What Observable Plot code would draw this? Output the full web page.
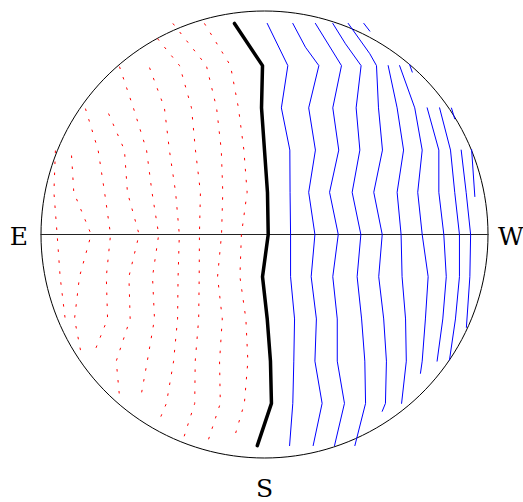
<!DOCTYPE html>
<html><head><meta charset="utf-8">
<script src="https://cdn.jsdelivr.net/npm/d3@7"></script>
<script src="https://cdn.jsdelivr.net/npm/@observablehq/plot@0.6"></script>
<style>body{margin:0;background:#fff}</style>
</head><body><div id="chart"></div>
<script>
// Coordinates in degrees across the sky disc: u (E<0, W>0), v (S<0, N>0); horizon radius 90.
const zeroLine = [[-12.1,85],[-0.8,68],[-1.2,51],[0,34],[1.2,17],[1.5,0],[-0.8,-17],[1.1,-34],[2.4,-51],[2.8,-68],[-2.9,-85]];

const negLines = [
  [[-24.2,85],[-13.7,68],[-10.5,51],[-8.3,34],[-7.0,17],[-9.3,0],[-9.9,-17],[-7.5,-34],[-6.7,-51],[-8.1,-68],[-12.5,-83]],
  [[-36.9,85],[-23.4,68],[-19.3,51],[-17.4,34],[-16.8,17],[-17.3,0],[-18.9,-17],[-17.0,-34],[-18.1,-51],[-17.8,-68],[-22.7,-83]],
  [[-43.1,78.9],[-34.2,68],[-29.4,51],[-27.8,34],[-25.8,17],[-26.2,0],[-26.3,-17],[-26.5,-34],[-27.9,-51],[-28.1,-68],[-32.9,-83]],
  [[-46.3,67.2],[-40.3,51],[-38.3,34],[-35.8,17],[-34.3,0],[-34.8,-17],[-35.0,-34],[-36.6,-51],[-39.5,-68],[-41.9,-73.7]],
  [[-58.4,67.6],[-52.8,51],[-47.5,34],[-45.3,17],[-42.6,0],[-45.1,-17],[-44.3,-34],[-47.2,-51],[-49.9,-66]],
  [[-62.8,48.7],[-56.4,34],[-55.2,17],[-50.5,0],[-54.6,-17],[-54.1,-34],[-59.7,-51],[-58.4,-65.2]],
  [[-72.1,50.7],[-67.0,34],[-64.4,17],[-62.0,0],[-63.7,-17],[-63.2,-34],[-68.9,-48.3]],
  [[-77.7,31.8],[-76.8,17],[-69.8,0],[-74.5,-17],[-76.5,-34],[-73.7,-48.7]],
  [[-84.2,33.8],[-84.8,17],[-83.5,0],[-82.3,-17],[-80.1,-35.4]]
];

const posLines = [
  [[1.1,85],[9.4,68],[6.8,51],[10.2,34],[10.3,17],[10.5,0],[10.5,-17],[12.1,-34],[11.8,-51],[11.4,-68],[10.1,-85]],
  [[11.4,85],[16.5,75.4],[21.9,68],[17.8,51],[20.5,34],[17.8,17],[20.3,0],[18.8,-17],[20.9,-34],[20.3,-51],[23.2,-68],[19.6,-85]],
  [[20.5,85],[31.0,68],[27.5,51],[29.9,34],[26.2,17],[29.7,0],[27.5,-17],[29.3,-34],[29.3,-51],[32.2,-68],[28.2,-85]],
  [[27.5,85],[32.6,76.8],[38.9,68],[36.9,51],[38.4,34],[35.3,17],[38.8,0],[37.3,-17],[39.1,-34],[40.4,-51],[40.7,-68],[36.4,-85]],
  [[33.7,85],[42.4,72.8],[45.1,68],[45.9,51],[47.5,34],[44.0,17],[47.4,0],[46.0,-17],[48.0,-34],[49.1,-51],[48.7,-68],[47.4,-71.2]],
  [[40.0,85],[42.4,81.9]],
  [[49.8,68],[53.4,51],[56.0,34],[53.4,17],[55.0,0],[55.4,-17],[56.8,-34],[57.1,-51],[55.2,-68]],
  [[54.4,68],[60.5,51],[63.5,34],[61.7,17],[63.5,0],[65.9,-17],[64.8,-34],[63.5,-51],[62.8,-55.9]],
  [[58.4,68.5],[59.5,65.4]],
  [[65.5,51],[70.2,34],[70.2,17],[72.2,0],[73.2,-17],[71.8,-34],[69.5,-51]],
  [[70.5,51],[74.9,34],[76.6,17],[78.5,0],[78.5,-17],[76.9,-34],[74.5,-50.5]],
  [[75.3,50.9],[76.6,46.6]],
  [[79.2,34],[81.2,17],[83.0,0],[82.7,-17],[81.3,-37.4]],
  [[83.4,34.2],[84.7,15.3]]
];

const compassLabels = ["E", "W", "S"];
const compassU = [-90, 90, 0];
const compassV = [0, 0, -90];

const toRows = (lines, g) => lines.flatMap((pts, i) => pts.map(([u, v]) => ({u, v, id: g + i})));
const horizonCircle = d3.range(0, 361, 2).map(a => ({u: 90 * Math.cos(a * Math.PI / 180), v: 90 * Math.sin(a * Math.PI / 180)}));
const compass = compassLabels.map((label, i) => ({label, u: compassU[i], v: compassV[i]}));
const font = {fontSize: 25, fontFamily: "DejaVu Serif", fill: "black"};

const chart = Plot.plot({
  width: 523,
  height: 502,
  x: {domain: [-90, 90], range: [40.5, 487.5], axis: null},
  y: {domain: [-90, 90], range: [457.5, 10.5], axis: null},
  style: {background: "white"},
  marks: [
    Plot.line(horizonCircle, {x: "u", y: "v", stroke: "black", strokeWidth: 1}),
    Plot.ruleY([0], {x1: -90, x2: 90, stroke: "#222", strokeWidth: 1}),
    Plot.line(toRows(negLines, "n"), {x: "u", y: "v", z: "id", stroke: "red", strokeWidth: 1, strokeDasharray: "2.5,8.5", strokeLinecap: "butt"}),
    Plot.line(toRows(posLines, "p"), {x: "u", y: "v", z: "id", stroke: "blue", strokeWidth: 1}),
    Plot.line(zeroLine.map(([u, v]) => ({u, v})), {x: "u", y: "v", stroke: "black", strokeWidth: 3.5}),
    Plot.text([compass[0]], {x: "u", y: "v", text: "label", textAnchor: "end", dx: -13, dy: 2, ...font}),
    Plot.text([compass[1]], {x: "u", y: "v", text: "label", textAnchor: "start", dx: 10, dy: 2, ...font}),
    Plot.text([compass[2]], {x: "u", y: "v", text: "label", textAnchor: "middle", dy: 31, ...font})
  ]
});
document.getElementById("chart").appendChild(chart);
</script>
</body></html>
